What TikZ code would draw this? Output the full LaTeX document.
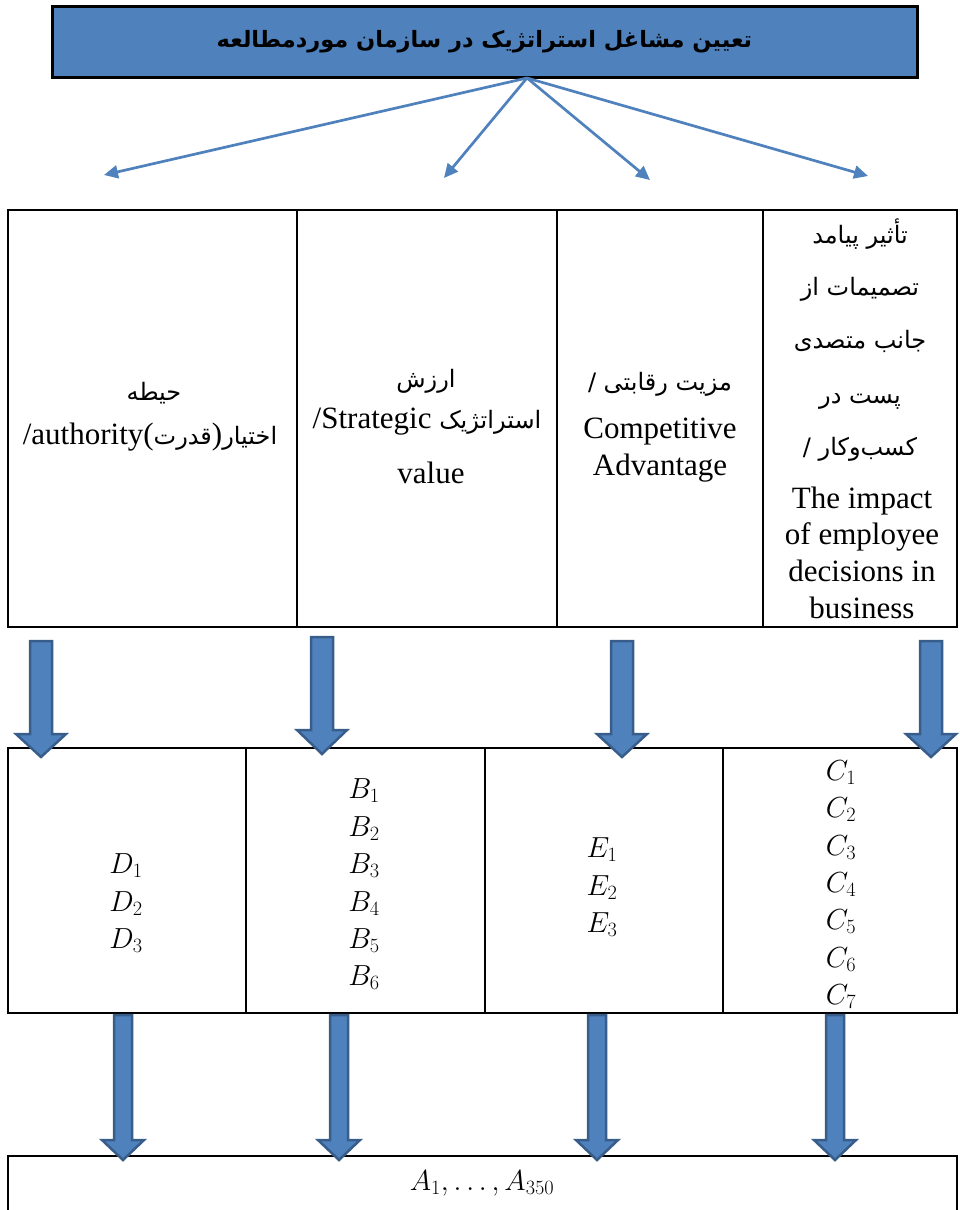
\RequirePackage{fix-cm}
\documentclass[tikz,border=0pt]{standalone}
\usepackage{fontspec}
\setmainfont{Liberation Serif}
\newfontfamily\arabicfont[Script=Arabic]{DejaVu Sans}
\TeXXeTstate=1
\usetikzlibrary{arrows.meta}
\definecolor{blueA}{HTML}{4F81BD}
\definecolor{blueB}{HTML}{385D8A}
\newcommand{\fa}[1]{{\arabicfont\beginR #1\endR}}
\newcommand{\fs}{\fontsize{24}{30}\selectfont}
\newcommand{\blockarr}[6]{% x, top, base, tip, halfshaft, halfhead
  \draw[barrow] (#1-#5,#2) -- (#1+#5,#2) -- (#1+#5,#3) -- (#1+#6,#3) -- (#1,#4) -- (#1-#6,#3) -- (#1-#5,#3) -- cycle;}
\tikzset{
  titlebox/.style={draw=black, fill=blueA, line width=3pt, inner sep=0pt},
  cell/.style={draw=black, line width=2pt, inner sep=0pt},
  thinarrow/.style={draw=blueA, line width=2.7pt, -{Triangle[length=14pt,width=13pt]}},
  barrow/.style={fill=blueA, draw=blueB, line width=2.5pt, line join=miter},
  txt/.style={anchor=base, inner sep=0pt, font=\fontsize{31}{37}\selectfont},
  fatxt/.style={anchor=base, inner sep=0pt, font=\fs},
  mtxt/.style={anchor=base, inner sep=0pt, font=\fontsize{29}{37}\selectfont},
}
\begin{document}
\begin{tikzpicture}[x=1pt,y=-1pt]
\useasboundingbox (0,0) rectangle (960,1210);
% title
\node[titlebox, minimum width=865pt, minimum height=71pt] (title) at (484.5,41.5)
  {\fontsize{22.5}{26}\selectfont\bfseries\fa{تعیین مشاغل استراتژیک در سازمان موردمطالعه}};
\coordinate (hub) at (527,78);
\coordinate (e1) at (104,175);
\coordinate (e2) at (444,178);
\coordinate (e3) at (650,180);
\coordinate (e4) at (868,176);
\foreach \e in {e1,e2,e3,e4} \draw[thinarrow] (hub) -- (\e);
% table 1
\node[cell, minimum width=289pt, minimum height=417pt] (k1) at (152.5,418.5) {};
\node[cell, minimum width=260pt, minimum height=417pt] (k2) at (427,418.5) {};
\node[cell, minimum width=206pt, minimum height=417pt] (k3) at (660,418.5) {};
\node[cell, minimum width=194pt, minimum height=417pt] (k4) at (860,418.5) {};
% column 1
\node[fatxt] (k1a) at (154,400) {\fa{حیطه}};
\node[txt] (k1b) at (150,444) {/authority(\fa{\fs قدرت})\fa{\fs اختیار}};
% column 2
\node[fatxt] (k2a) at (426,387) {\fa{ارزش}};
\node[txt] (k2b) at (427,428) {/Strategic \fa{\fs استراتژیک}};
\node[txt] (k2c) at (431,483) {value};
% column 3
\node[fatxt] (k3a) at (660,390) {\fa{مزیت رقابتی /}};
\node[txt] (k3b) at (660,438) {Competitive};
\node[txt] (k3c) at (660,475) {Advantage};
% column 4
\node[fatxt] (k4a) at (860,243) {\fa{تأثیر پیامد}};
\node[fatxt] (k4b) at (860,295) {\fa{تصمیمات از}};
\node[fatxt] (k4c) at (860,348) {\fa{جانب متصدی}};
\node[fatxt] (k4d) at (860,403) {\fa{پست در}};
\node[fatxt] (k4e) at (860,455) {\fa{کسب^^^^200cوکار /}};
\node[txt] (k4f) at (862,508) {The impact};
\node[txt] (k4g) at (862,544) {of employee};
\node[txt] (k4h) at (862,581) {decisions in};
\node[txt] (k4i) at (862,618) {business};
% table 2
\node[cell, minimum width=238pt, minimum height=265pt] (m1) at (127,880.5) {};
\node[cell, minimum width=239pt, minimum height=265pt] (m2) at (365.5,880.5) {};
\node[cell, minimum width=238pt, minimum height=265pt] (m3) at (604,880.5) {};
\node[cell, minimum width=234pt, minimum height=265pt] (m4) at (840,880.5) {};
\foreach \i/\y in {1/873,2/911,3/948} \node[mtxt] (d\i) at (126,\y) {$D_{\i}$};
\foreach \i/\y in {1/798,2/836,3/873,4/911,5/948,6/985} \node[mtxt] (b\i) at (364,\y) {$B_{\i}$};
\foreach \i/\y in {1/857,2/895,3/932} \node[mtxt] (ee\i) at (602,\y) {$E_{\i}$};
\foreach \i/\y in {1/780,2/817,3/855,4/892,5/929,6/967,7/1004} \node[mtxt] (c\i) at (841,\y) {$C_{\i}$};
% bottom box
\draw[cell] (8,1156) rectangle (957,1216);
\node[mtxt] (a) at (482,1190) {$A_1,\ldots,A_{350}$};
% block arrows row 1
\blockarr{41}{641}{734}{757}{11}{25}
\blockarr{322}{637}{730}{754}{11}{25}
\blockarr{622}{641}{734}{757}{11}{25}
\blockarr{931}{641}{734}{757}{11}{25}
% block arrows row 2
\blockarr{123}{1015}{1140}{1160}{9}{21}
\blockarr{339}{1015}{1140}{1160}{9}{21}
\blockarr{597}{1015}{1140}{1160}{9}{21}
\blockarr{835}{1015}{1140}{1160}{9}{21}
\end{tikzpicture}
\end{document}
